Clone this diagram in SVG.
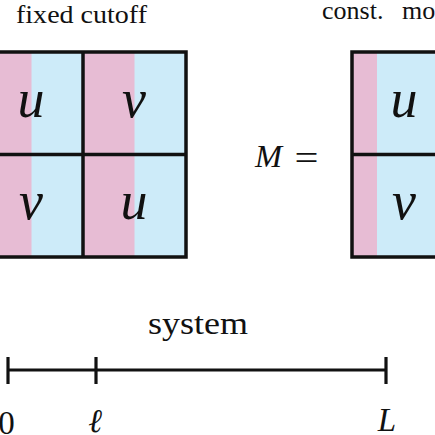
<svg xmlns="http://www.w3.org/2000/svg" width="435" height="435" viewBox="0 0 435 435">
<style>
.pink{fill:#e7bcd4}
.blue{fill:#cdebf9}
.frame{fill:none;stroke:#111;stroke-width:3.5}
.ln{stroke:#111;stroke-width:3.5;fill:none}
.axis{stroke:#111;stroke-width:3.2;fill:none}
text{font-family:'Liberation Serif','Times New Roman',serif;fill:#111}
.mi{font-style:italic}
.cell{font-style:italic;font-size:54px;text-anchor:middle}
</style>
<rect width="435" height="435" fill="#ffffff"/>
<text x="16" y="23" font-size="26" textLength="131" lengthAdjust="spacingAndGlyphs">fixed cutoff</text>
<text x="322" y="19" font-size="26">const.<tspan x="402">mo</tspan></text>
<g id="matrix-fixed">
<rect class="blue" x="-20" y="52" width="206" height="205"/>
<rect class="pink" x="-20" y="52" width="51.5" height="205"/>
<rect class="pink" x="83" y="52" width="51.5" height="205"/>
<rect class="frame" x="-20" y="52" width="206" height="205"/>
<line class="ln" x1="83" y1="52" x2="83" y2="257"/>
<line class="ln" x1="-20" y1="154.5" x2="186" y2="154.5"/>
<text class="cell" x="31" y="117">u</text>
<text class="cell" x="134" y="117">v</text>
<text class="cell" x="31" y="219">v</text>
<text class="cell" x="134" y="219">u</text>
</g>
<g id="eq">
<text class="mi" x="255" y="166.5" font-size="32.5">M</text>
<text x="294.5" y="169.5" font-size="36" textLength="24" lengthAdjust="spacingAndGlyphs">=</text>
</g>
<g id="matrix-const">
<rect class="blue" x="352" y="52" width="206" height="205"/>
<rect class="pink" x="352" y="52" width="25" height="205"/>
<rect class="frame" x="352" y="52" width="206" height="205"/>
<line class="ln" x1="352" y1="154.5" x2="558" y2="154.5"/>
<text class="cell" x="404" y="117">u</text>
<text class="cell" x="404" y="219">v</text>
</g>
<g id="system">
<text x="148" y="334" font-size="31" textLength="100" lengthAdjust="spacingAndGlyphs">system</text>
<line class="axis" x1="8" y1="370" x2="386" y2="370"/>
<line class="axis" x1="8" y1="357" x2="8" y2="384"/>
<line class="axis" x1="96" y1="357" x2="96" y2="384"/>
<line class="axis" x1="386" y1="357" x2="386" y2="384"/>
<text x="6.5" y="434" font-size="33" text-anchor="middle">0</text>
<text class="mi" x="95" y="432" font-size="33" text-anchor="middle">ℓ</text>
<text class="mi" x="387" y="431" font-size="33" text-anchor="middle">L</text>
</g>
</svg>
